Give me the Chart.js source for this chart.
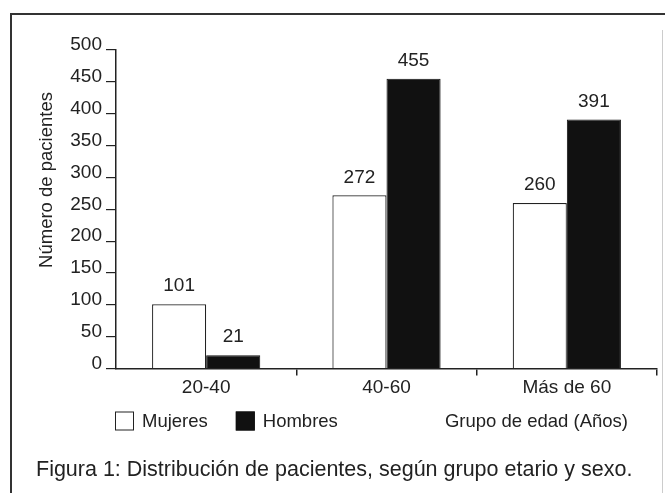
<!DOCTYPE html>
<html>
<head>
<meta charset="utf-8">
<script src="https://cdn.jsdelivr.net/npm/chart.js@4.4.0/dist/chart.umd.min.js"></script>
<style>
  html, body { margin: 0; padding: 0; background: #fff; }
  #wrap { width: 665px; height: 493px; position: relative; }
</style>
</head>
<body>
<div id="wrap"><canvas id="myChart"></canvas></div>
<script>
let categories = ["20-40", "40-60", "Más de 60"];
let mujeres = [101, 272, 260];
let hombres = [21, 455, 391];
let yMax = 500;
let yStep = 50;
let yTitle = "Número de pacientes";
let xTitle = "Grupo de edad (Años)";
let caption = "Figura 1: Distribución de pacientes, según grupo etario y sexo.";

let ink = "#222";
let fontFam = "'Liberation Sans', Arial, Helvetica, sans-serif";
Chart.defaults.font.family = fontFam;
Chart.defaults.color = ink;

// frame, value labels, y title, legend and x title
const paperPlugin = {
  id: "paper",
  beforeDraw(chart) {
    const ctx = chart.ctx;
    ctx.save();
    ctx.fillStyle = "#fff";
    ctx.fillRect(0, 0, chart.width, chart.height);
    ctx.strokeStyle = "#333";
    ctx.lineWidth = 2;
    ctx.beginPath();
    ctx.moveTo(11, chart.height);
    ctx.lineTo(11, 14);
    ctx.lineTo(chart.width, 14);
    ctx.stroke();
    ctx.strokeStyle = "#ccc";
    ctx.lineWidth = 1;
    ctx.beginPath();
    ctx.moveTo(662.5, 30);
    ctx.lineTo(662.5, chart.height);
    ctx.stroke();
    ctx.restore();
  },
  afterDatasetsDraw(chart) {
    const ctx = chart.ctx;
    ctx.save();
    ctx.font = "19px " + fontFam;
    ctx.fillStyle = ink;
    ctx.textAlign = "center";
    ctx.textBaseline = "middle";
    chart.data.datasets.forEach(function (ds, i) {
      chart.getDatasetMeta(i).data.forEach(function (bar, j) {
        ctx.fillText(ds.data[j], bar.x, bar.y - 18);
      });
    });

    // y axis title
    ctx.save();
    ctx.translate(47, 180);
    ctx.rotate(-Math.PI / 2);
    ctx.font = "18.5px " + fontFam;
    ctx.fillText(yTitle, 0, 0);
    ctx.restore();

    // legend row
    let legY = 421;
    let x = 115;
    ctx.font = "18.5px " + fontFam;
    ctx.textAlign = "left";
    chart.data.datasets.forEach(function (ds) {
      ctx.fillStyle = ds.backgroundColor;
      ctx.fillRect(x, legY - 9.5, 19, 19);
      ctx.strokeStyle = ds.borderColor;
      ctx.lineWidth = 1;
      ctx.strokeRect(x + 0.5, legY - 9, 18, 18);
      ctx.fillStyle = ink;
      ctx.fillText(ds.label, x + 27, legY + 1);
      x += 27 + ctx.measureText(ds.label).width + 28;
    });
    ctx.textAlign = "right";
    ctx.fillText(xTitle, 628, legY + 1);
    ctx.restore();
  },
};

const data = {
  labels: categories,
  datasets: [
    {
      label: "Mujeres",
      data: mujeres,
      backgroundColor: "#ffffff",
      borderColor: ink,
      borderWidth: 1.2,
    },
    {
      label: "Hombres",
      data: hombres,
      backgroundColor: "#111111",
      borderColor: "#111111",
      borderWidth: 1,
    },
  ],
};

const config = {
  type: "bar",
  data: data,
  plugins: [paperPlugin],
  options: {
    responsive: true,
    maintainAspectRatio: false,
    animation: false,
    layout: {
      padding: { left: 36, right: 8, top: 50, bottom: 10 },
    },
    datasets: {
      bar: { categoryPercentage: 0.6, barPercentage: 1.0 },
    },
    plugins: {
      legend: { display: false },
      tooltip: { enabled: false },
      title: {
        display: true,
        text: caption,
        position: "bottom",
        align: "start",
        color: ink,
        font: { size: 21.5, weight: "normal" },
        padding: { top: 58.6, bottom: 0 },
      },
    },
    scales: {
      x: {
        afterFit: function (scale) {
          scale.height = 30;
        },
        border: { display: true, color: ink, width: 1.5 },
        grid: {
          drawOnChartArea: false,
          drawTicks: true,
          tickLength: 7,
          lineWidth: 1.5,
          color: function (c) {
            return c.index === 0 || c.index === categories.length ? "rgba(0,0,0,0)" : ink;
          },
        },
        ticks: { color: ink, font: { size: 19 }, padding: 1 },
      },
      y: {
        min: 0,
        max: yMax,
        afterFit: function (scale) {
          scale.width = 80;
        },
        border: { display: true, color: ink, width: 1.5 },
        grid: {
          drawOnChartArea: false,
          drawTicks: true,
          tickLength: 10,
          lineWidth: 1.2,
          color: ink,
        },
        ticks: {
          stepSize: yStep,
          color: ink,
          font: { size: 19 },
          padding: 4,
          labelOffset: -5,
        },
      },
    },
  },
};

const myChart = new Chart(document.getElementById("myChart"), config);
</script>
</body>
</html>
